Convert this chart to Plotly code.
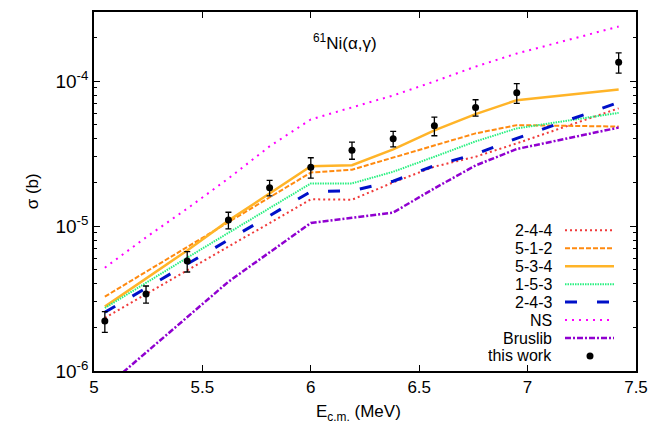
import plotly.graph_objects as go

# ---------------- data ----------------
energy = [5.05, 5.24, 5.43, 5.62, 5.81, 6.00, 6.19, 6.38, 6.57, 6.76, 6.95, 7.42]

sigma_exp = [2.21e-6, 3.40e-6, 5.74e-6, 1.10e-5, 1.84e-5, 2.55e-5,
             3.34e-5, 4.01e-5, 4.92e-5, 6.59e-5, 8.32e-5, 1.35e-4]
sigma_err = [0.36e-6, 0.46e-6, 0.92e-6, 1.45e-6, 2.25e-6, 4.1e-6,
             4.5e-6, 4.9e-6, 7.2e-6, 8.5e-6, 1.3e-5, 2.15e-5]

s_244 = [2.33e-6, 3.40e-6, 4.97e-6, 7.23e-6, 1.05e-5, 1.53e-5,
         1.52e-5, 2.00e-5, 2.57e-5, 3.01e-5, 3.72e-5, 6.49e-5]
s_512 = [3.26e-6, 4.84e-6, 7.21e-6, 1.07e-5, 1.58e-5, 2.34e-5,
         2.45e-5, 2.96e-5, 3.62e-5, 4.36e-5, 4.97e-5, 4.86e-5]
s_534 = [2.78e-6, 4.35e-6, 6.79e-6, 1.09e-5, 1.68e-5, 2.59e-5,
         2.63e-5, 3.38e-5, 4.57e-5, 5.92e-5, 7.39e-5, 8.77e-5]
s_153 = [2.72e-6, 4.07e-6, 6.05e-6, 8.98e-6, 1.33e-5, 1.97e-5,
         1.97e-5, 2.37e-5, 3.01e-5, 3.84e-5, 4.72e-5, 6.04e-5]
s_243 = [2.54e-6, 3.73e-6, 5.51e-6, 8.07e-6, 1.18e-5, 1.73e-5,
         1.75e-5, 2.04e-5, 2.61e-5, 3.14e-5, 4.03e-5, 7.13e-5]
s_ns = [5.16e-6, 8.36e-6, 1.32e-5, 2.13e-5, 3.55e-5, 5.44e-5,
        6.59e-5, 7.96e-5, 9.95e-5, 1.26e-4, 1.55e-4, 2.38e-4]
s_bruslib = [7.64e-7, 1.34e-6, 2.35e-6, 4.13e-6, 6.59e-6, 1.05e-5,
             1.14e-5, 1.24e-5, 1.82e-5, 2.62e-5, 3.40e-5, 4.78e-5]

x_tick_vals = [5, 5.5, 6, 6.5, 7, 7.5]
x_tick_text = ["5", "5.5", "6", "6.5", "7", "7.5"]
y_tick_vals = [1e-6, 1e-5, 1e-4]
y_tick_text = ["10<sup>-6</sup>", "10<sup>-5</sup>", "10<sup>-4</sup>"]

title_text = "<sup>61</sup>Ni(α,γ)"
x_title = "E<sub>c.m.</sub> (MeV)"
y_title = "σ (b)"

# ---------------- styles ----------------
FONT = "Liberation Sans, Arial, Helvetica, sans-serif"
FS = 17
FS_LEG = 16
series = [
    ("2-4-4", s_244, dict(color="#f03a3a", width=2, dash="2px,3px")),
    ("5-1-2", s_512, dict(color="#ff8a10", width=2, dash="5px,2px")),
    ("5-3-4", s_534, dict(color="#ffb428", width=2.5, dash="solid")),
    ("1-5-3", s_153, dict(color="#28f080", width=2, dash="1.5px,1px")),
    ("2-4-3", s_243, dict(color="#0010c8", width=3, dash="12px,20px")),
    ("NS", s_ns, dict(color="#ff00ff", width=2, dash="2px,5px")),
    ("Bruslib", s_bruslib, dict(color="#9000d0", width=2.5, dash="6px,2px,2px,2px")),
]

fig = go.Figure()

for name, ys, ln in series:
    fig.add_trace(go.Scatter(x=energy, y=ys, mode="lines", name=name,
                             line=ln, showlegend=False, cliponaxis=True))

fig.add_trace(go.Scatter(
    x=energy, y=sigma_exp, mode="markers", name="this work",
    marker=dict(color="black", size=7),
    error_y=dict(type="data", array=sigma_err, color="black",
                 thickness=1.3, width=3),
    showlegend=False))

# ---------------- manual gnuplot-style legend ----------------
L, R, T, B = 86, 628, 3.7, 362.7
W, H = R - L, B - T


def px(x):
    return (x - L) / W


def py(y):
    return (B - y) / H


leg_names = [s[0] for s in series] + ["this work"]
row0, dy = 222.0, 17.95
annotations = []
for i, nm in enumerate(leg_names):
    yy = py(row0 + i * dy)
    annotations.append(dict(x=px(546), y=yy, xref="paper", yref="paper",
                            text=nm, showarrow=False, xanchor="right",
                            yanchor="middle", height=17,
                            font=dict(family=FONT, size=FS_LEG, color="black")))
    if i < len(series):
        fig.add_trace(go.Scatter(x=[px(557), px(606)], y=[yy, yy],
                                 xaxis="x2", yaxis="y2", mode="lines",
                                 line=series[i][2], showlegend=False,
                                 hoverinfo="skip"))
    else:
        fig.add_trace(go.Scatter(x=[px(582)], y=[yy], xaxis="x2", yaxis="y2",
                                 mode="markers",
                                 marker=dict(color="black", size=7),
                                 showlegend=False, hoverinfo="skip"))

annotations.append(dict(x=px(337), y=py(34), xref="paper", yref="paper",
                        text=title_text, showarrow=False, xanchor="center",
                        yanchor="middle",
                        font=dict(family=FONT, size=FS, color="black")))
annotations.append(dict(x=px(350), y=py(405), xref="paper", yref="paper",
                        text=x_title, showarrow=False, xanchor="center",
                        yanchor="middle",
                        font=dict(family=FONT, size=FS, color="black")))
annotations.append(dict(x=px(24), y=py(183), xref="paper", yref="paper",
                        text=y_title, showarrow=False, textangle=-90,
                        xanchor="center", yanchor="middle",
                        font=dict(family=FONT, size=FS, color="black")))

minor_vals = [m * 10.0 ** e for e in (-6, -5, -4) for m in range(2, 10)
              if m * 10.0 ** e < 3e-4]

fig.update_layout(
    width=660, height=424,
    margin=dict(l=L, r=660 - R, t=T, b=424 - B, autoexpand=False),
    paper_bgcolor="white", plot_bgcolor="white",
    font=dict(family=FONT, size=FS, color="black"),
    showlegend=False,
    annotations=annotations,
    xaxis=dict(range=[5, 7.5], tickvals=x_tick_vals, ticktext=x_tick_text,
               ticks="inside", ticklen=6, tickcolor="black", tickwidth=1,
               tickfont=dict(family=FONT, size=FS, color="black"),
               showline=True, linecolor="black", linewidth=1.5,
               mirror="ticks", showgrid=False, zeroline=False,
               automargin=False),
    yaxis=dict(type="log", range=[-6, -3.523], tickvals=y_tick_vals,
               ticktext=y_tick_text, ticks="inside", ticklen=6,
               tickcolor="black", tickwidth=1,
               tickfont=dict(family=FONT, size=19, color="black"),
               minor=dict(tickvals=minor_vals, ticks="inside", ticklen=3,
                          tickcolor="black", tickwidth=1, showgrid=False),
               showline=True, linecolor="black", linewidth=1.5,
               mirror="ticks", showgrid=False, zeroline=False,
               automargin=False),
    xaxis2=dict(overlaying="x", range=[0, 1], visible=False, fixedrange=True),
    yaxis2=dict(overlaying="y", range=[0, 1], visible=False, fixedrange=True),
)

fig.write_html("out.html")
